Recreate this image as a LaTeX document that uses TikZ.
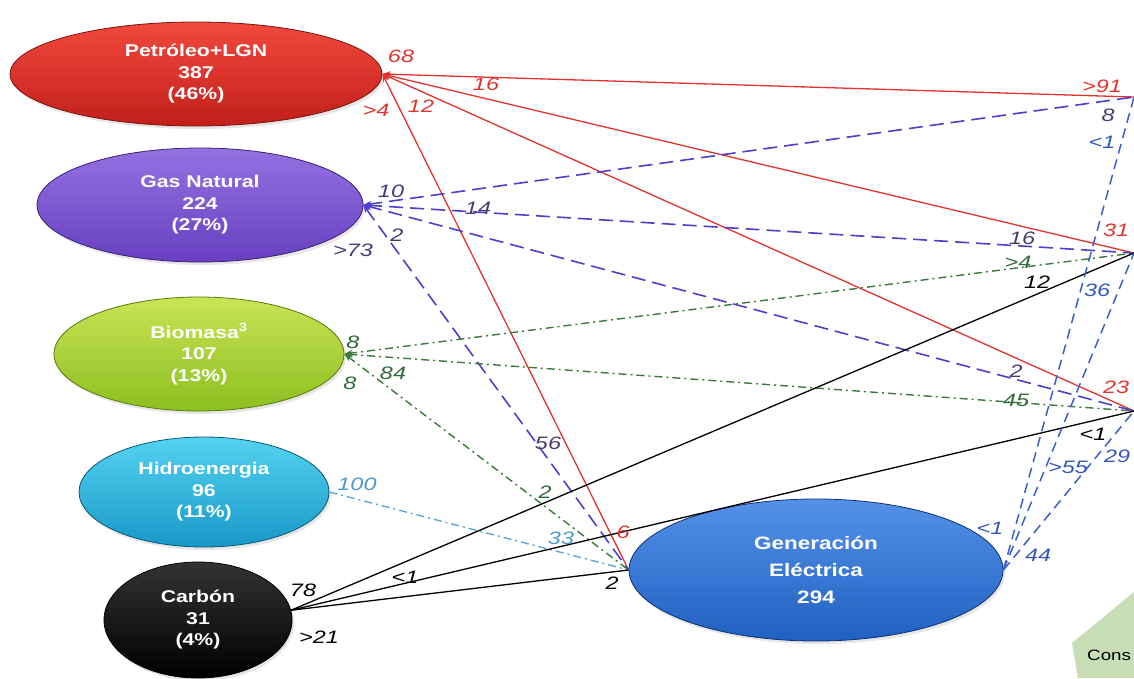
\documentclass[tikz,border=0pt]{standalone}
\usepackage{fontspec}
\setmainfont{Liberation Sans}
\newfontfamily\boxfont[FakeStretch=1.25]{Liberation Sans}
\newfontfamily\numfont[FakeStretch=1.3]{Liberation Sans}
\usepackage{tikz}
\usetikzlibrary{arrows.meta,shapes.geometric,shadows}
\usepackage{xcolor}
\definecolor{petT}{HTML}{F2493D}
\definecolor{petB}{HTML}{C21F1B}
\definecolor{petD}{HTML}{7A1410}
\definecolor{gasT}{HTML}{9472E2}
\definecolor{gasB}{HTML}{6840C0}
\definecolor{gasD}{HTML}{3A2070}
\definecolor{bioT}{HTML}{C8E455}
\definecolor{bioB}{HTML}{8CBF20}
\definecolor{bioD}{HTML}{5A7A10}
\definecolor{hidT}{HTML}{55D2F0}
\definecolor{hidB}{HTML}{1898C8}
\definecolor{hidD}{HTML}{0A5878}
\definecolor{genT}{HTML}{5492E8}
\definecolor{genB}{HTML}{2060C0}
\definecolor{genD}{HTML}{103070}
\definecolor{redln}{HTML}{E2332E}
\definecolor{gasln}{HTML}{4B3FD0}
\definecolor{gastx}{HTML}{4A3A70}
\definecolor{bioln}{HTML}{3C7A3C}
\definecolor{biotx}{HTML}{2F6B3A}
\definecolor{hidln}{HTML}{5AAAD0}
\definecolor{hidtx}{HTML}{4A9ACD}
\definecolor{genln}{HTML}{3B5FC8}
\definecolor{gentx}{HTML}{3558B8}
\definecolor{consfill}{HTML}{C6DDB6}
\tikzset{src/.style={ellipse,thick,inner sep=0pt,align=center,text=white,font=\boxfont\bfseries\fontsize{17}{21.5}\selectfont,drop shadow={opacity=.2,shadow xshift=2pt,shadow yshift=-3pt}},
pline/.style={draw=redln,line width=1.3pt,{Stealth[length=8pt,width=6pt]}-},
gline/.style={draw=gasln,line width=1.6pt,dash pattern=on 14pt off 7pt,{Stealth[length=8pt,width=6pt]}-},
bline/.style={draw=bioln,line width=1.4pt,dash pattern=on 8pt off 4pt on 2pt off 4pt,{Stealth[length=8pt,width=6pt]}-},
hline/.style={draw=hidln,line width=1.4pt,dash pattern=on 8pt off 4pt on 2pt off 4pt},
cline/.style={draw=black,line width=1.3pt},
eline/.style={draw=genln,line width=1.5pt,dash pattern=on 10pt off 6pt},
lbl/.style={font=\numfont\itshape\fontsize{18}{18}\selectfont,inner sep=1pt}}
\begin{document}
\begin{tikzpicture}[x=1pt,y=-1pt]
\useasboundingbox (0,0) rectangle (1134,678);
\clip (0,0) rectangle (1134,678);
% sources
\node[src,top color=petT,bottom color=petB,draw=petD,minimum width=372pt,minimum height=104pt] (pet) at (196,74) {Petróleo+LGN\\387\\(46\%)};
\node[src,top color=gasT,bottom color=gasB,draw=gasD,minimum width=326pt,minimum height=114pt] (gas) at (200,205) {Gas Natural\\224\\(27\%)};
\node[src,top color=bioT,bottom color=bioB,draw=bioD,minimum width=290pt,minimum height=114pt] (bio) at (199,354) {Biomasa\textsuperscript{3}\\107\\(13\%)};
\node[src,top color=hidT,bottom color=hidB,draw=hidD,minimum width=250pt,minimum height=110pt] (hid) at (204,492) {Hidroenergia\\96\\(11\%)};
\node[src,top color=black!80,bottom color=black,draw=black,minimum width=188pt,minimum height=116pt] (car) at (198,620) {Carbón\\31\\(4\%)};
\node[src,top color=genT,bottom color=genB,draw=genD,minimum width=374pt,minimum height=142pt,font=\boxfont\bfseries\fontsize{18}{27}\selectfont] (gen) at (816,570) {Generación\\Eléctrica\\294};
% partly shown box
\fill[consfill] (1072,643) -- (1134,592) -- (1134,678) -- (1078,678) -- cycle;
\node[anchor=west,font=\boxfont\fontsize{15}{15}\selectfont,inner sep=0pt] (cons) at (1087,655) {Cons};
% free ends on the right
\coordinate (r1) at (1134,97);
\coordinate (r2) at (1134,253);
\coordinate (r3) at (1134,411);
% flows
\draw[pline] (pet.east) -- (r1); \draw[pline] (pet.east) -- (r2); \draw[pline] (pet.east) -- (r3); \draw[pline] (pet.east) -- (gen.west);
\draw[gline] (gas.east) -- (r1); \draw[gline] (gas.east) -- (r2); \draw[gline] (gas.east) -- (r3); \draw[gline] (gas.east) -- (gen.west);
\draw[bline] (bio.east) -- (r2); \draw[bline] (bio.east) -- (r3); \draw[bline] (bio.east) -- (gen.west);
\draw[hline] (hid.east) -- (gen.west);
\draw[cline] (car.6) -- (r2); \draw[cline] (car.6) -- (r3); \draw[cline] (car.6) -- (gen.west);
\draw[eline] (gen.east) -- (r1); \draw[eline] (gen.east) -- (r2); \draw[eline] (gen.east) -- (r3);
% labels
\node[lbl,text=redln] (p1) at (401,56) {68}; \node[lbl,text=redln] (p2) at (1102,86) {>91};
\node[lbl,text=redln] (p3) at (486,84) {16}; \node[lbl,text=redln] (p4) at (1116,230) {31};
\node[lbl,text=redln] (p5) at (421,106) {12}; \node[lbl,text=redln] (p6) at (1116,387) {23};
\node[lbl,text=redln] (p7) at (376,110) {>4}; \node[lbl,text=redln] (p8) at (623,532) {6};
\node[lbl,text=gastx] (g1) at (391,191) {10}; \node[lbl,text=gastx] (g2) at (1108,115) {8};
\node[lbl,text=gastx] (g3) at (478,208) {14}; \node[lbl,text=gastx] (g4) at (1022,238) {16};
\node[lbl,text=gastx] (g5) at (397,235) {2}; \node[lbl,text=gastx] (g6) at (1016,371) {2};
\node[lbl,text=gastx] (g7) at (353,250) {>73}; \node[lbl,text=gastx] (g8) at (548,443) {56};
\node[lbl,text=biotx] (b1) at (353,342) {8}; \node[lbl,text=biotx] (b2) at (1018,262) {>4};
\node[lbl,text=biotx] (b3) at (393,373) {84}; \node[lbl,text=biotx] (b4) at (1016,400) {45};
\node[lbl,text=biotx] (b5) at (350,383) {8}; \node[lbl,text=biotx] (b6) at (545,492) {2};
\node[lbl,text=hidtx] (h1) at (357,484) {100}; \node[lbl,text=hidtx] (h2) at (561,538) {33};
\node[lbl] (c1) at (303,590) {78}; \node[lbl] (c2) at (1037,282) {12};
\node[lbl] (c3) at (405,577) {<1}; \node[lbl] (c4) at (1093,434) {<1};
\node[lbl] (c5) at (319,637) {>21}; \node[lbl] (c6) at (612,583) {2};
\node[lbl,text=gentx] (e1) at (990,528) {<1}; \node[lbl,text=gentx] (e2) at (1102,142) {<1};
\node[lbl,text=gentx] (e3) at (1038,555) {44}; \node[lbl,text=gentx] (e4) at (1097,290) {36};
\node[lbl,text=gentx] (e5) at (1068,467) {>55}; \node[lbl,text=gentx] (e6) at (1117,456) {29};
\end{tikzpicture}
\end{document}
